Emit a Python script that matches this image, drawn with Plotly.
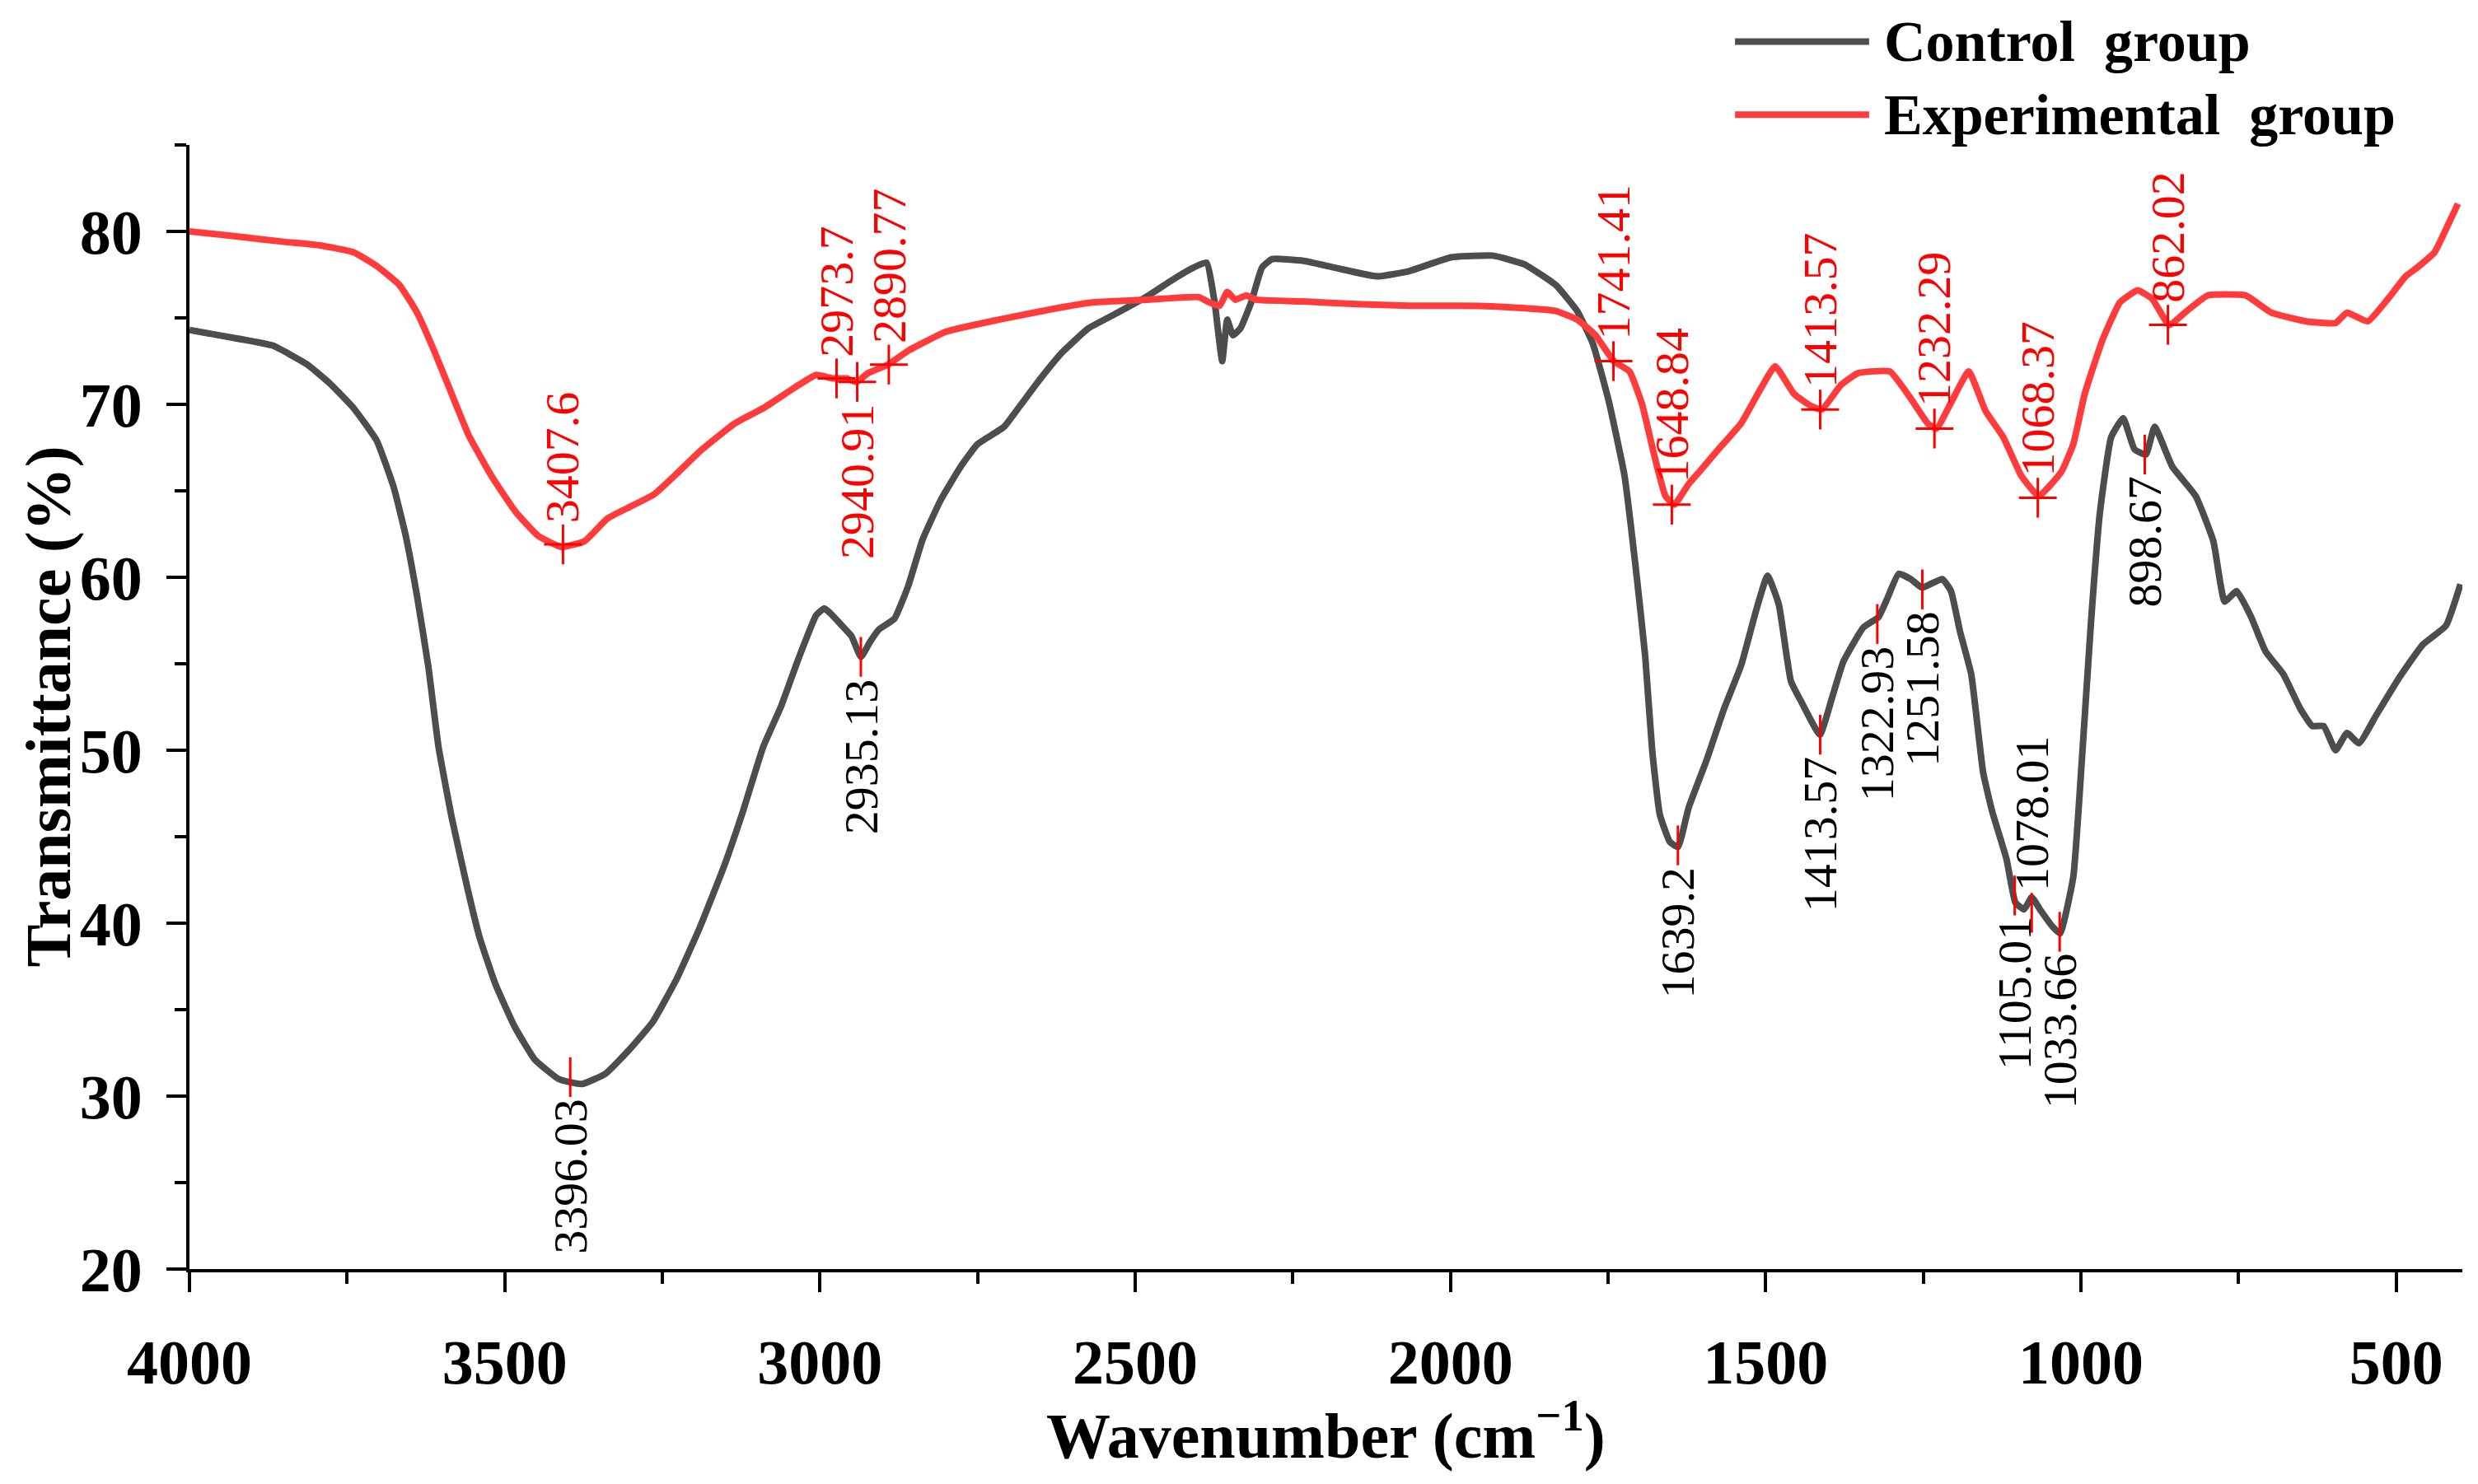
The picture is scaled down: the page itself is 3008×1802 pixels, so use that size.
import plotly.graph_objects as go

# FTIR spectra
control_wn = [4000, 3923, 3868, 3813, 3777, 3740, 3703, 3676, 3657, 3639, 3621, 3605, 3584, 3559,
              3540, 3515, 3484, 3452, 3415, 3396, 3377, 3340, 3302, 3265, 3227, 3190, 3152, 3121,
              3090, 3061, 3034, 3006, 2993, 2983, 2965, 2950, 2935, 2920, 2906, 2882, 2860, 2837,
              2808, 2775, 2750, 2708, 2683, 2650, 2616, 2574, 2533, 2483, 2441, 2408, 2387, 2374,
              2362, 2354, 2345, 2333, 2316, 2299, 2283, 2233, 2183, 2116, 2066, 1999, 1933, 1883,
              1833, 1799, 1774, 1749, 1724, 1705, 1691, 1680, 1668, 1652, 1639, 1622, 1594, 1566,
              1539, 1515, 1497, 1479, 1460, 1442, 1414, 1395, 1377, 1345, 1321, 1308, 1289, 1270,
              1252, 1220, 1206, 1192, 1174, 1155, 1141, 1118, 1104, 1090, 1078, 1065, 1045, 1033,
              1012, 998, 984, 970, 952, 933, 915, 897, 883, 855, 818, 790, 772, 753, 730, 707, 679,
              652, 633, 615, 596, 578, 559, 532, 495, 458, 421, 398]
control_t = [74.3, 73.8, 73.4, 72.3, 71.2, 69.8, 67.9, 65.2, 62.4, 58.9, 54.8, 50.2, 46.1, 42.0,
             39.2, 36.5, 34.0, 32.1, 31.0, 30.8, 30.7, 31.3, 32.7, 34.3, 36.8, 39.8, 43.3, 46.6,
             50.2, 52.6, 55.3, 57.8, 58.2, 57.9, 57.2, 56.6, 55.4, 56.3, 57.0, 57.6, 59.5, 62.2,
             64.5, 66.5, 67.7, 68.7, 69.9, 71.5, 73.0, 74.4, 75.2, 76.2, 77.2, 77.9, 78.2, 75.9,
             72.5, 74.9, 74.0, 74.4, 75.9, 77.9, 78.4, 78.3, 77.9, 77.4, 77.7, 78.5, 78.6, 78.1,
             76.9, 75.4, 73.5, 70.2, 65.9, 60.2, 55.4, 50.0, 46.3, 44.7, 44.4, 46.7, 49.4, 52.4,
             54.9, 58.1, 60.1, 58.4, 54.0, 52.7, 50.9, 53.0, 55.1, 57.1, 57.7, 58.7, 60.2, 59.9,
             59.4, 59.9, 59.2, 56.9, 54.4, 48.7, 46.5, 43.7, 41.2, 40.8, 41.5, 40.8, 39.8, 39.4,
             42.7, 49.7, 57.4, 63.7, 68.1, 69.2, 67.4, 67.1, 68.7, 66.4, 64.7, 62.1, 58.6, 59.2,
             57.7, 55.7, 54.4, 52.4, 51.4, 51.4, 50.0, 51.0, 50.4, 52.0, 54.2, 56.1, 57.2, 59.6]

exp_wn = [4000, 3923, 3850, 3795, 3740, 3703, 3667, 3639, 3612, 3584, 3557, 3520, 3483, 3447,
          3410, 3373, 3337, 3300, 3263, 3227, 3190, 3135, 3089, 3043, 3006, 2979, 2958, 2942,
          2924, 2892, 2860, 2800, 2716, 2633, 2566, 2483, 2399, 2383, 2366, 2354, 2341, 2324,
          2308, 2233, 2149, 2066, 1983, 1899, 1833, 1799, 1770, 1741, 1716, 1696, 1677, 1659,
          1645, 1622, 1603, 1575, 1539, 1511, 1485, 1455, 1428, 1411, 1381, 1354, 1303, 1271,
          1243, 1229, 1206, 1178, 1151, 1123, 1095, 1067, 1031, 1012, 994, 966, 938, 910, 887,
          860, 832, 799, 739, 698, 643, 596, 578, 545, 513, 485, 467, 439, 420, 402]
exp_t = [80.0, 79.7, 79.4, 79.2, 78.8, 78.0, 76.9, 75.3, 73.1, 70.6, 68.2, 65.8, 63.8, 62.4,
         61.75, 62.1, 63.4, 64.1, 64.8, 66.0, 67.3, 68.9, 69.8, 70.9, 71.7, 71.5, 71.5, 71.3,
         71.8, 72.3, 73.1, 74.2, 74.9, 75.5, 75.9, 76.05, 76.2, 75.9, 75.7, 76.5, 76.05, 76.3,
         76.05, 75.95, 75.8, 75.7, 75.7, 75.6, 75.4, 74.9, 74.0, 72.5, 71.9, 70.0, 67.1, 64.7,
         64.2, 65.4, 66.2, 67.4, 68.9, 70.7, 72.2, 70.6, 69.9, 69.7, 71.1, 71.8, 71.9, 70.4,
         68.9, 68.6, 70.1, 71.9, 69.6, 68.1, 65.9, 64.7, 66.1, 67.7, 70.6, 73.7, 75.9, 76.6, 76.1,
         74.6, 75.4, 76.3, 76.3, 75.3, 74.8, 74.7, 75.3, 74.8, 76.1, 77.4, 77.9, 78.8, 80.2, 81.6]

# peak labels
exp_peak_wn = [3407.6, 2973.7, 2940.91, 2890.77, 1741.41, 1648.84, 1413.57, 1232.29, 1068.37, 862.02]
exp_peak_t = [61.9, 71.5, 71.3, 72.3, 72.5, 64.2, 69.7, 68.6, 64.6, 74.6]
exp_peak_side = ["up", "up", "down", "up", "up", "up", "up", "up", "up", "up"]
exp_peak_text = ["3407.6", "2973.7", "2940.91", "2890.77", "1741.41", "1648.84",
                 "1413.57", "1232.29", "1068.37", "862.02"]

ctrl_peak_wn = [3396.03, 2935.13, 1639.2, 1413.57, 1322.93, 1251.58, 1105.01, 1078.01, 1033.66, 898.67]
ctrl_peak_t = [31.1, 55.4, 44.5, 50.9, 57.3, 59.3, 41.6, 40.6, 39.5, 67.1]
ctrl_peak_side = ["down", "down", "down", "down", "down", "down", "down", "up", "down", "down"]
ctrl_peak_text = ["3396.03", "2935.13", "1639.2", "1413.57", "1322.93", "1251.58",
                  "1105.01", "1078.01", "1033.66", "898.67"]

SERIF = "Liberation Serif"
GREY = "#4d4d4d"
RED = "#ff3b3b"
MARK = 1.15  # half height of the red peak ticks

fig = go.Figure()
fig.add_trace(go.Scatter(x=control_wn, y=control_t, mode="lines", name="Control  group",
                         line=dict(color=GREY, width=8, shape="spline", smoothing=0.4)))
fig.add_trace(go.Scatter(x=exp_wn, y=exp_t, mode="lines", name="Experimental  group",
                         line=dict(color=RED, width=8, shape="spline", smoothing=0.4)))


def peak_marks(wn, t, cross):
    xs, ys = [], []
    for x, y in zip(wn, t):
        xs += [x, x, None]
        ys += [y - MARK, y + MARK, None]
        if cross:
            xs += [x + 30, x - 30, None]
            ys += [y, y, None]
    return xs, ys


for wn, t, cross in [(exp_peak_wn, exp_peak_t, True), (ctrl_peak_wn, ctrl_peak_t, False)]:
    xs, ys = peak_marks(wn, t, cross)
    fig.add_trace(go.Scatter(x=xs, y=ys, mode="lines", showlegend=False, hoverinfo="skip",
                             line=dict(color="#ff0000", width=3)))

annotations = []
for wn, t, side, txt, col in (
        [(a, b, c, d, "#ff0000") for a, b, c, d in zip(exp_peak_wn, exp_peak_t, exp_peak_side, exp_peak_text)]
        + [(a, b, c, d, "black") for a, b, c, d in zip(ctrl_peak_wn, ctrl_peak_t, ctrl_peak_side, ctrl_peak_text)]):
    up = side == "up"
    annotations.append(dict(x=wn, y=t + MARK if up else t - MARK, xref="x", yref="y",
                            text=txt, showarrow=False, textangle=-90,
                            xanchor="center", yanchor="bottom" if up else "top",
                            font=dict(family=SERIF, size=58, color=col)))

# axis titles
annotations.append(dict(x=0.5, y=0, xref="paper", yref="paper", yanchor="top", yshift=-145,
                        text="Wavenumber (cm<sup>−1</sup>)", showarrow=False,
                        font=dict(family=SERIF, size=78, color="black", weight="bold")))
annotations.append(dict(x=0, y=0.5, xref="paper", yref="paper", xanchor="center", xshift=-172,
                        text="Transmittance (%)", showarrow=False, textangle=-90,
                        font=dict(family=SERIF, size=78, color="black", weight="bold")))

# legend drawn by hand (long line samples)
legend_rows = [("Control  group", GREY, 1.092), ("Experimental  group", RED, 1.027)]
shapes = []
for name, col, ypos in legend_rows:
    shapes.append(dict(type="line", xref="paper", yref="paper", x0=0.680, x1=0.739,
                       y0=ypos, y1=ypos, line=dict(color=col, width=8)))
    annotations.append(dict(x=0.745, y=ypos, xref="paper", yref="paper", xanchor="left",
                            yanchor="middle", text=name, showarrow=False,
                            font=dict(family=SERIF, size=70, color="black", weight="bold")))

axis_common = dict(showline=True, linecolor="black", linewidth=4, ticks="outside",
                   ticklen=24, tickwidth=4, tickcolor="black", showgrid=False, zeroline=False,
                   tickfont=dict(family=SERIF, size=76, color="black", weight="bold"))

fig.update_layout(
    width=3008, height=1802,
    margin=dict(l=222, r=27, t=168, b=269),
    paper_bgcolor="white", plot_bgcolor="white",
    showlegend=False,
    annotations=annotations,
    shapes=shapes,
    xaxis=dict(range=[4000, 395], tick0=0, dtick=500,
               minor=dict(dtick=250, ticks="outside", ticklen=14, tickwidth=4, tickcolor="black"),
               ticklabelstandoff=20, **axis_common),
    yaxis=dict(range=[20, 85], tick0=0, dtick=10,
               minor=dict(dtick=5, ticks="outside", ticklen=14, tickwidth=4, tickcolor="black"),
               ticklabelstandoff=14, **axis_common),
)

fig.write_html("out.html")
